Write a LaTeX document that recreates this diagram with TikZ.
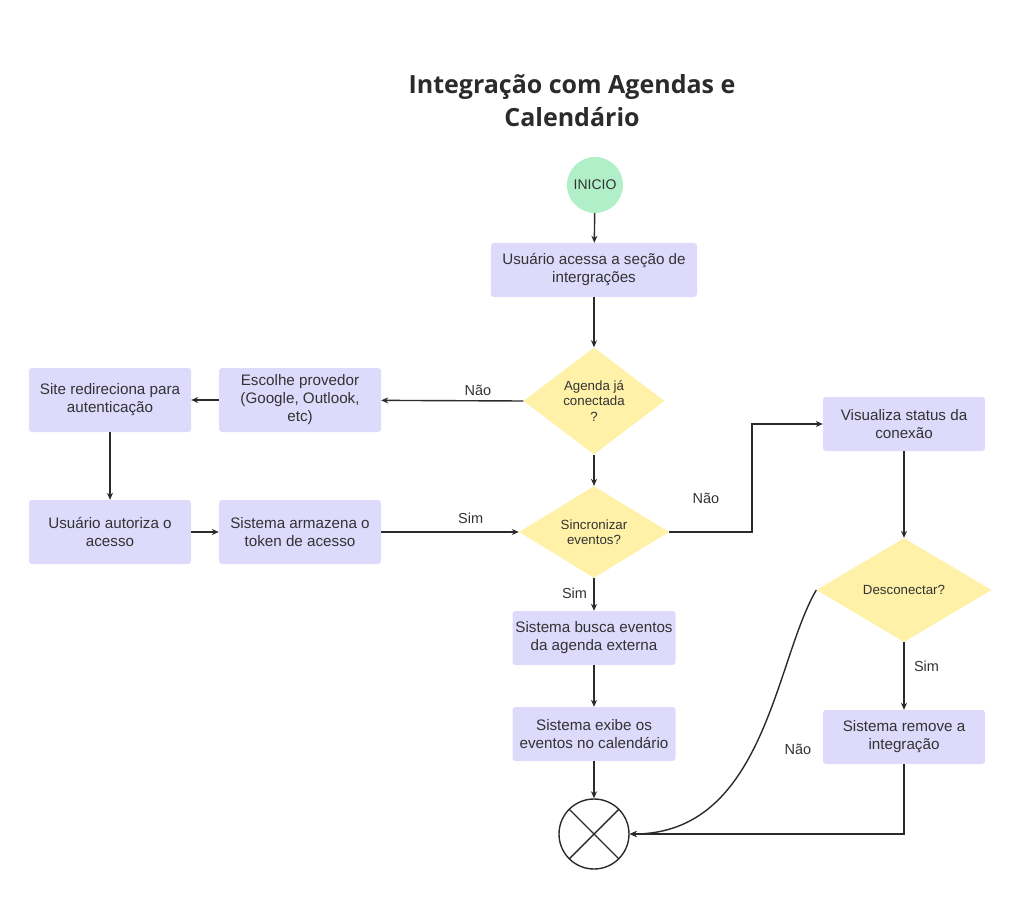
\documentclass[tikz,border=0pt]{standalone}
\usepackage{fontspec}
\setmainfont{Liberation Sans}
\newfontfamily\titlefont{Open Sans}
\usetikzlibrary{shapes.geometric,arrows.meta}
\definecolor{boxfill}{HTML}{DDDAFC}
\definecolor{decfill}{HTML}{FFF1A8}
\definecolor{startfill}{HTML}{B0EFC8}
\definecolor{ink}{HTML}{2B2B2B}
\definecolor{txt}{HTML}{333333}
\tikzset{
  procbox/.style={draw=none, fill=boxfill, rounded corners=3pt, align=center, text=txt,
    font=\fontsize{15.2}{18}\selectfont, inner sep=0pt},
  decision/.style={diamond, draw=none, fill=decfill, align=center, text=txt,
    font=\fontsize{13.3}{15.5}\selectfont, inner sep=0pt},
  conn/.style={draw=ink, line width=1.4pt, -{Stealth[length=7pt,width=6pt]}},
  lbl/.style={text=txt, font=\fontsize{14.5}{17}\selectfont}
}
\begin{document}
\begin{tikzpicture}[x=1pt,y=-1pt]
\useasboundingbox (0,0) rectangle (1022,901);
\node[font=\titlefont\bfseries\fontsize{25}{33}\selectfont, text=ink, align=center] (title) at (572,101) {Integração com Agendas e\\Calendário};
\node[circle, fill=startfill, minimum size=56pt, inner sep=0pt, text=txt, font=\fontsize{14}{16}\selectfont] (start) at (595,185) {INICIO};
\node[procbox, minimum width=206pt, minimum height=54pt] (acessa) at (594,270) {Usuário acessa a seção de\\intergrações};
\node[decision, minimum width=141pt, minimum height=107pt] (conect) at (594,401) {Agenda já\\conectada\\?};
\node[procbox, minimum width=162pt, minimum height=64pt] (escolhe) at (300,400) {Escolhe provedor\\(Google, Outlook,\\etc)};
\node[procbox, minimum width=162pt, minimum height=64pt] (site) at (110,400) {Site redireciona para\\autenticação};
\node[procbox, minimum width=162pt, minimum height=64pt] (autoriza) at (110,532) {Usuário autoriza o\\acesso};
\node[procbox, minimum width=162pt, minimum height=64pt] (armazena) at (300,532) {Sistema armazena o\\token de acesso};
\node[decision, minimum width=150pt, minimum height=89pt] (sinc) at (594,532) {Sincronizar\\eventos?};
\node[procbox, minimum width=163pt, minimum height=54pt] (busca) at (594,638) {Sistema busca eventos\\da agenda externa};
\node[procbox, minimum width=163pt, minimum height=54pt] (exibe) at (594,734) {Sistema exibe os\\eventos no calendário};
\node[circle, draw=ink, line width=1.4pt, minimum size=70pt, inner sep=0pt] (fim) at (594,834) {};
\draw[ink, line width=1.4pt] (fim.45) -- (fim.225) (fim.135) -- (fim.315);
\node[procbox, minimum width=162pt, minimum height=54pt] (status) at (904,424) {Visualiza status da\\conexão};
\node[decision, minimum width=175pt, minimum height=104pt] (desc) at (904,590) {Desconectar?};
\node[procbox, minimum width=162pt, minimum height=54pt] (remove) at (904,737) {Sistema remove a\\integração};
\coordinate (bend1) at (752,532);
\coordinate (bend2) at (752,424);
\coordinate (bend3) at (904,834);

\draw[conn] (start) -- (acessa);
\draw[conn] (acessa) -- (conect);
\draw[conn] (conect.west) -- node[lbl, above, pos=0.32, yshift=1pt] {Não} (escolhe);
\draw[conn] (escolhe) -- (site);
\draw[conn] (site) -- (autoriza);
\draw[conn] (autoriza) -- (armazena);
\draw[conn] (armazena) -- node[lbl, above, pos=0.65, yshift=4pt] {Sim} (sinc.west);
\draw[conn] (conect.south) -- (sinc.north);
\draw[conn] (sinc.south) -- node[lbl, left, pos=0.45, xshift=-3pt] {Sim} (busca);
\draw[conn] (busca) -- (exibe);
\draw[conn] (exibe) -- (fim);
\draw[conn] (sinc.east) -- (bend1) -- (bend2) -- (status);
\node[lbl] (naolbl) at (706,498) {Não};
\draw[conn] (status) -- (desc.north);
\draw[conn] (desc.south) -- node[lbl, right, pos=0.35, xshift=6pt] {Sim} (remove);
\draw[conn] (remove) -- (bend3) -- (fim.east);
\draw[conn] (desc.west) .. controls (775,660) and (765,834) .. (fim.east);
\node[lbl] (naolbl2) at (798,749) {Não};
\end{tikzpicture}
\end{document}
